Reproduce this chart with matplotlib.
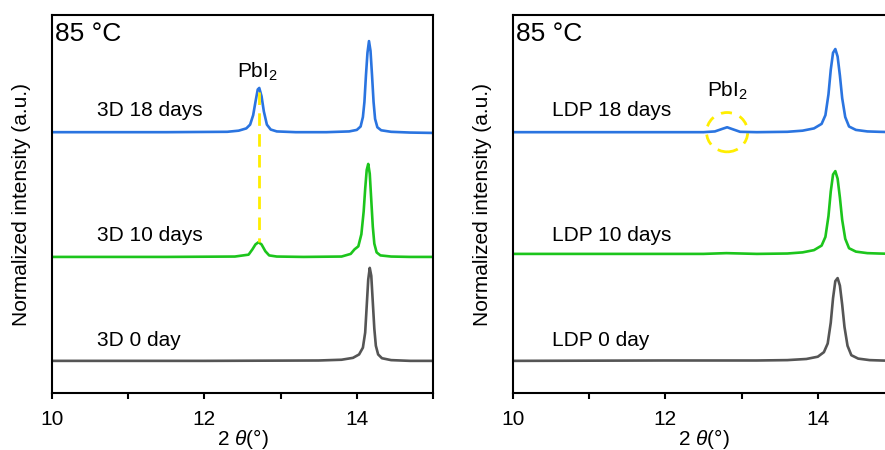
import matplotlib
matplotlib.use("Agg")
import matplotlib.pyplot as plt
from matplotlib.patches import Ellipse
from matplotlib.ticker import MultipleLocator

plt.rcParams['font.family'] = ['Liberation Sans', 'DejaVu Sans']
plt.rcParams['mathtext.fontset'] = 'custom'
plt.rcParams['mathtext.it'] = 'Liberation Sans:italic'
plt.rcParams['mathtext.rm'] = 'Liberation Sans'

# ---------------- data ----------------
panel_titles = ["85 °C", "85 °C"]
left_labels = ["3D 18 days", "3D 10 days", "3D 0 day"]
right_labels = ["LDP 18 days", "LDP 10 days", "LDP 0 day"]
label_y = [7.47, 4.17, 1.38]

# Left panel (3D)
l18_x = [10.0, 11.5, 12.3, 12.45, 12.55, 12.6, 12.64, 12.67, 12.70, 12.72, 12.75, 12.78, 12.82, 12.87,
         12.95, 13.2, 13.6, 13.9, 14.0, 14.05, 14.08, 14.10, 14.12, 14.14, 14.16, 14.18, 14.20, 14.22,
         14.24, 14.27, 14.32, 14.45, 14.7, 15.0]
l18_y = [6.90, 6.90, 6.91, 6.94, 7.00, 7.10, 7.35, 7.70, 8.03, 8.07, 7.85, 7.45, 7.10, 6.97,
         6.92, 6.90, 6.90, 6.92, 6.96, 7.05, 7.30, 7.70, 8.40, 9.00, 9.31, 9.05, 8.40, 7.70,
         7.25, 7.03, 6.95, 6.91, 6.89, 6.88]

l10_x = [10.0, 11.5, 12.4, 12.58, 12.63, 12.67, 12.71, 12.75, 12.80, 12.85, 12.95, 13.3, 13.8, 13.92,
         13.97, 14.02, 14.06, 14.09, 14.11, 14.13, 14.15, 14.17, 14.19, 14.21, 14.23, 14.26, 14.31,
         14.45, 14.7, 15.0]
l10_y = [3.60, 3.60, 3.61, 3.66, 3.80, 3.93, 3.99, 3.93, 3.75, 3.64, 3.61, 3.60, 3.61, 3.68,
         3.80, 3.88, 4.20, 4.80, 5.40, 5.90, 6.06, 5.80, 5.10, 4.40, 3.95, 3.72, 3.64,
         3.61, 3.60, 3.60]

l0_x = [10.0, 12.0, 13.5, 13.8, 13.95, 14.03, 14.08, 14.11, 14.13, 14.15, 14.17, 14.19, 14.21, 14.23,
        14.25, 14.28, 14.33, 14.45, 14.7, 15.0]
l0_y = [0.85, 0.85, 0.86, 0.88, 0.93, 1.02, 1.20, 1.60, 2.30, 3.00, 3.31, 3.10, 2.40, 1.70,
        1.25, 1.02, 0.92, 0.87, 0.85, 0.85]

# Right panel (LDP)
r18_x = [10.0, 12.0, 12.5, 12.65, 12.75, 12.81, 12.88, 12.98, 13.2, 13.6, 13.8, 13.95, 14.05, 14.10,
         14.14, 14.17, 14.20, 14.23, 14.26, 14.29, 14.32, 14.36, 14.41, 14.5, 14.65, 14.8, 15.0]
r18_y = [6.90, 6.90, 6.90, 6.92, 6.99, 7.03, 6.98, 6.91, 6.90, 6.91, 6.94, 7.00, 7.12, 7.35,
         7.90, 8.55, 9.00, 9.10, 8.90, 8.40, 7.80, 7.30, 7.05, 6.96, 6.92, 6.91, 6.90]

r10_x = [10.0, 12.5, 12.8, 13.2, 13.6, 13.8, 13.95, 14.05, 14.10, 14.14, 14.17, 14.20, 14.23, 14.26,
         14.29, 14.32, 14.36, 14.41, 14.5, 14.65, 14.8, 15.0]
r10_y = [3.68, 3.68, 3.70, 3.68, 3.69, 3.72, 3.78, 3.90, 4.13, 4.68, 5.33, 5.78, 5.87, 5.67,
         5.17, 4.58, 4.08, 3.83, 3.74, 3.70, 3.69, 3.68]

r0_x = [10.0, 12.0, 13.2, 13.6, 13.85, 14.0, 14.08, 14.13, 14.17, 14.20, 14.23, 14.26, 14.29, 14.32,
        14.35, 14.39, 14.44, 14.53, 14.68, 14.83, 15.0]
r0_y = [0.85, 0.86, 0.86, 0.87, 0.90, 0.96, 1.08, 1.31, 1.86, 2.51, 2.96, 3.04, 2.84, 2.34,
        1.75, 1.25, 1.00, 0.91, 0.87, 0.86, 0.85]

pbi2_left_x = 12.71
pbi2_left_span = [7.95, 3.99]
pbi2_right_center = (12.81, 6.90)

colors = ["#2a74e0", "#1cc51c", "#555555"]
yellow = "#ffee00"

# ---------------- figure ----------------
fig = plt.figure(figsize=(8.85, 4.5), dpi=100)
ax1 = fig.add_axes([52 / 885, 57 / 450, 381 / 885, 378 / 450])
ax2 = fig.add_axes([513 / 885, 57 / 450, 381 / 885, 378 / 450])

def style(ax):
    ax.set_xlim(10, 15)
    ax.set_ylim(0, 10)
    ax.set_yticks([])
    ax.xaxis.set_major_locator(MultipleLocator(2))
    ax.xaxis.set_minor_locator(MultipleLocator(1))
    ax.tick_params(axis='x', which='both', direction='out', length=4, width=1.5,
                   labelsize=15, pad=8)
    for s in ax.spines.values():
        s.set_linewidth(1.5)
    ax.set_xlabel(r'2 $\theta$(°)', fontsize=15, labelpad=-1)
    ax.set_ylabel('Normalized intensity (a.u.)', fontsize=15, labelpad=15)

for ax, curves, labels, lx in [
    (ax1, [(l18_x, l18_y), (l10_x, l10_y), (l0_x, l0_y)], left_labels, 10.59),
    (ax2, [(r18_x, r18_y), (r10_x, r10_y), (r0_x, r0_y)], right_labels, 10.51),
]:
    style(ax)
    for (x, y), c in zip(curves, colors):
        ax.plot(x, y, color=c, lw=1.9, solid_joinstyle='round')
    for lab, yy in zip(labels, label_y):
        ax.text(lx, yy, lab, fontsize=15, va='center', ha='left')
    ax.text(0.008, 0.982, "85 °C", transform=ax.transAxes, fontsize=19,
            va='top', ha='left')

# PbI2 annotations
ax1.plot([pbi2_left_x, pbi2_left_x], pbi2_left_span, color=yellow, lw=2.0,
         dashes=(4.5, 3))
ax1.text(12.69, 8.20, r'PbI$_2$', fontsize=15, ha='center', va='bottom')

ax2.add_patch(Ellipse(pbi2_right_center, width=0.54, height=1.04, fill=False,
                      edgecolor=yellow, lw=2.0, linestyle=(0, (4, 3))))
ax2.text(12.82, 7.70, r'PbI$_2$', fontsize=15, ha='center', va='bottom')

fig.savefig("out.png", dpi=100)
